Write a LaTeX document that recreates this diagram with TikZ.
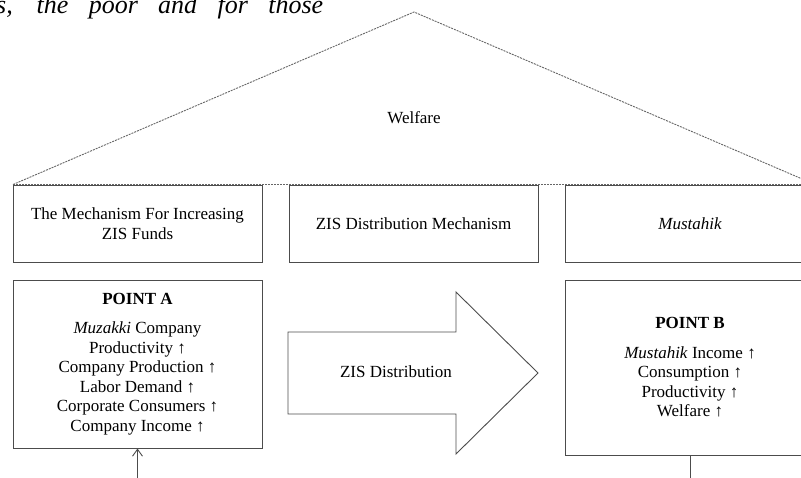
\documentclass[tikz,border=0pt]{standalone}
\usepackage{fontspec}
\setmainfont{Liberation Serif}
\usetikzlibrary{arrows.meta}
\begin{document}
\begin{tikzpicture}[x=1pt,y=-1pt,
  every node/.style={font=\fontsize{17}{19.5}\selectfont, inner sep=0pt},
  boxline/.style={draw=black!70, line width=0.9pt},
  roofline/.style={draw=black!60, line width=0.9pt, dash pattern=on 2pt off 1pt},
  topbox/.style={boxline, minimum height=77pt, align=center},
  pointbox/.style={boxline, align=center}
]
\useasboundingbox (0,0) rectangle (801,477);
\clip (0,0) rectangle (801,477);
% clipped line of running text at top
\node[anchor=base west, font=\fontsize{26}{30}\selectfont\itshape] (run) at (-4,13)
  {\makebox[327pt][s]{s, the poor and for those}};
% roof
\coordinate (apex) at (414,12);
\coordinate (rl) at (13,184.5);
\coordinate (rr) at (815,184.5);
\draw[roofline] (rl) -- (apex) -- (rr);
\draw[roofline] (rl) -- (rr);
\node (welfare) at (414,118) {Welfare};
% top boxes
\node[topbox, minimum width=249pt] (mech) at (137.5,223.5) {The Mechanism For Increasing\\ZIS Funds};
\node[topbox, minimum width=249pt] (dist) at (413.5,223.5) {ZIS Distribution Mechanism};
\node[topbox, minimum width=250pt] (must) at (690,223.5) {\itshape Mustahik};
% point boxes
\node[pointbox, minimum width=249pt, minimum height=168pt] (pa) at (137.5,364)
  {\textbf{POINT A}\\[10pt]\textit{Muzakki} Company\\Productivity ↑\\Company Production ↑\\Labor Demand ↑\\Corporate Consumers ↑\\Company Income ↑};
\node[pointbox, minimum width=250pt, minimum height=175pt] (pb) at (690,367.5)
  {\textbf{POINT B}\\[10pt]\textit{Mustahik} Income ↑\\Consumption ↑\\Productivity ↑\\Welfare ↑};
% block arrow
\draw[boxline, line join=miter] (288,332) -- (456,332) -- (456,292) -- (538,373) -- (456,454) -- (456,414) -- (288,414) -- cycle;
\node (zisd) at (396,372) {ZIS Distribution};
% connectors
\coordinate (ina) at (137.5,480);
\coordinate (outb) at (690,480);
\draw[boxline, -{Straight Barb[length=7pt,width=10pt]}] (ina) -- (pa.south);
\draw[boxline] (pb.south) -- (outb);
\end{tikzpicture}
\end{document}
